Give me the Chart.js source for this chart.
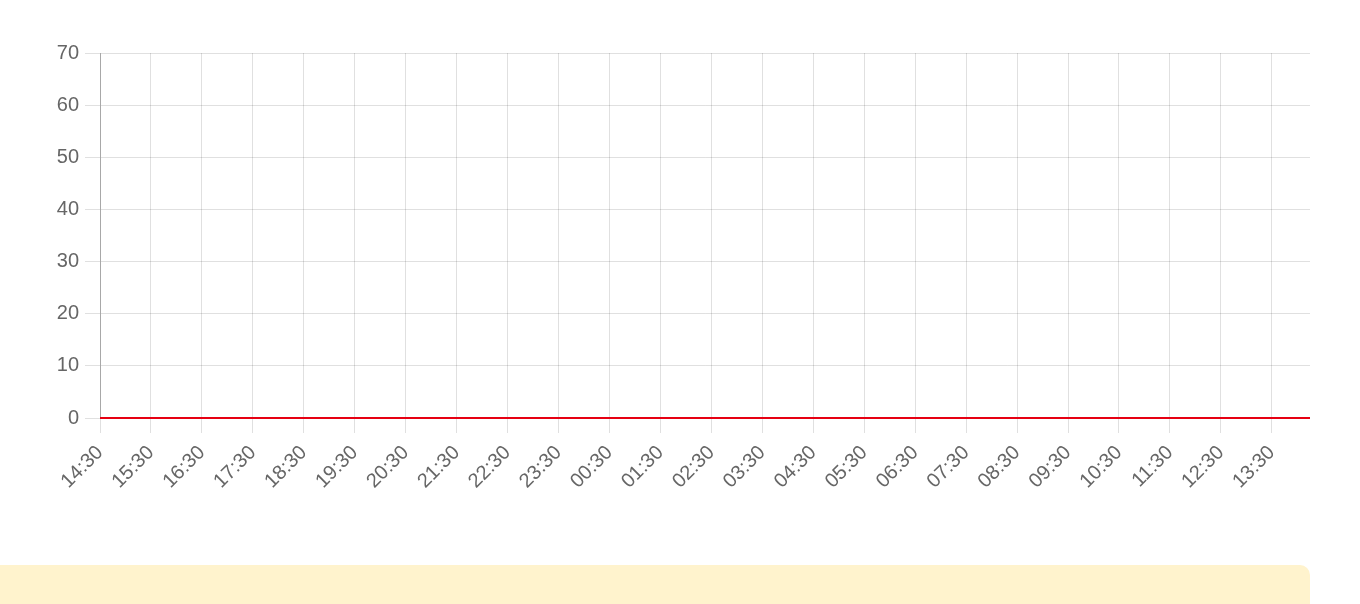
<!DOCTYPE html>
<html>
<head>
<meta charset="utf-8">
<script src="https://cdn.jsdelivr.net/npm/chart.js@4.4.0/dist/chart.umd.min.js"></script>
<style>
  html, body { margin: 0; padding: 0; background: #fff; overflow: hidden; }
  #wrap { position: absolute; left: 0; top: 0; width: 1310px; height: 545px; }
  #note { position: absolute; left: -10px; top: 565px; width: 1320px; height: 80px;
          background: #fff3cd; border-radius: 10px; }
</style>
</head>
<body>
<div id="wrap"><canvas id="c"></canvas></div>
<div id="note"></div>
<script>
// Time categories: every 15 minutes from 14:30 to 14:15 next day
const startHour = 14, startMinute = 30, stepMinutes = 15, pointCount = 96;
const timeLabels = [];
for (let i = 0; i < pointCount; i++) {
  const m = (startHour * 60 + startMinute + i * stepMinutes) % 1440;
  timeLabels.push(String(Math.floor(m / 60)).padStart(2, '0') + ':' + String(m % 60).padStart(2, '0'));
}
const seriesValues = [
  0,0,0,0,0,0,0,0,0,0,0,0,0,0,0,0,0,0,0,0,0,0,0,0,
  0,0,0,0,0,0,0,0,0,0,0,0,0,0,0,0,0,0,0,0,0,0,0,0,
  0,0,0,0,0,0,0,0,0,0,0,0,0,0,0,0,0,0,0,0,0,0,0,0,
  0,0,0,0,0,0,0,0,0,0,0,0,0,0,0,0,0,0,0,0,0,0,0,0
];
const yMin = 0, yMax = 70, yStep = 10;

const fontSpec = { family: '"Liberation Sans", Arial, Helvetica, sans-serif', size: 20 };

new Chart(document.getElementById('c'), {
  type: 'line',
  data: {
    labels: timeLabels,
    datasets: [{
      data: seriesValues,
      borderColor: '#e60012',
      borderWidth: 2,
      pointRadius: 0,
      fill: false,
      tension: 0,
      clip: false
    }]
  },
  options: {
    responsive: true,
    maintainAspectRatio: false,
    animation: false,
    layout: { padding: { top: 53, left: 0, right: 0, bottom: 0 } },
    plugins: { legend: { display: false }, tooltip: { enabled: false } },
    scales: {
      x: {
        type: 'category',
        grid: { color: 'rgba(0,0,0,0.12)', tickLength: 15 },
        border: { display: false },
        ticks: {
          autoSkip: false,
          minRotation: 45, maxRotation: 45,
          color: '#666', font: fontSpec, padding: 8,
          callback: function (v, i) {
            const l = this.getLabelForValue(v);
            return l.endsWith(':30') ? l : null;
          }
        },
        afterFit: s => { s.height = 127; }
      },
      y: {
        min: yMin, max: yMax,
        grid: { color: 'rgba(0,0,0,0.12)', tickLength: 15 },
        border: { color: 'rgba(0,0,0,0.25)' },
        ticks: { stepSize: yStep, color: '#666', font: fontSpec, padding: 6 },
        afterFit: s => { s.width = 100; }
      }
    }
  }
});
</script>
</body>
</html>
